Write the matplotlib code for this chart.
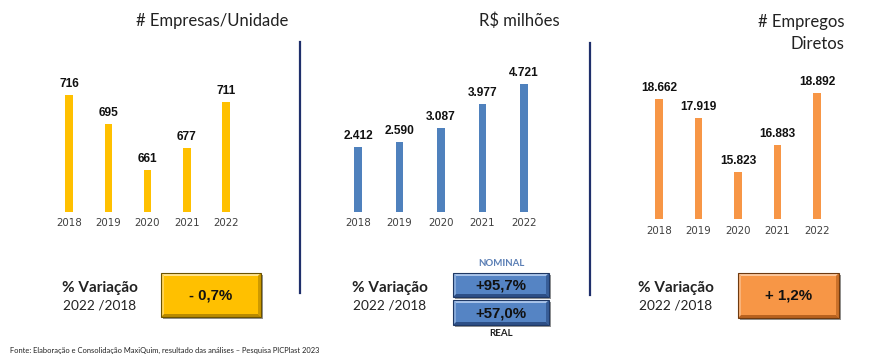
import matplotlib
matplotlib.use("Agg")
import matplotlib.pyplot as plt
from matplotlib.patches import Rectangle, Polygon

# ---------------- data ----------------
years = ["2018", "2019", "2020", "2021", "2022"]
empresas = [716, 695, 661, 677, 711]
empresas_labels = ["716", "695", "661", "677", "711"]
receita = [2412, 2590, 3087, 3977, 4721]
receita_labels = ["2.412", "2.590", "3.087", "3.977", "4.721"]
empregos = [18662, 17919, 15823, 16883, 18892]
empregos_labels = ["18.662", "17.919", "15.823", "16.883", "18.892"]

titles = ["# Empresas/Unidade", "R$ milhões", "# Empregos\nDiretos"]
var_label = "% Variação"
var_period = "2022 /2018"
var_empresas = "- 0,7%"
var_nominal = "+95,7%"
var_real = "+57,0%"
var_empregos = "+ 1,2%"
fonte = "Fonte: Elaboração e Consolidação MaxiQuim, resultado das análises – Pesquisa PICPlast 2023"

W, H = 871, 364
fig = plt.figure(figsize=(W / 100, H / 100), dpi=100)
fig.patch.set_facecolor("white")

BAR_FONT = "Liberation Sans"
TICK_FONT = "DejaVu Sans"
CAL_FONT = "Lato"


def bar_panel(values, labels, c0, spacing, base_px, top_px, ymin, px_per_unit, color, tick_y):
    left = c0 - 0.8 * spacing
    width = 5.6 * spacing
    height = base_px - top_px
    ax = fig.add_axes([left / W, 1 - base_px / H, width / W, height / H])
    ax.set_xlim(-0.8, 4.8)
    ax.set_ylim(ymin, ymin + height / px_per_unit)
    x = range(len(values))
    bw = 7.5 / spacing
    ax.bar(x, [v - ymin for v in values], bottom=ymin, width=bw, color=color, zorder=2)
    for xi, v, lab in zip(x, values, labels):
        ax.annotate(lab, (xi, v), xytext=(0, 3.5), textcoords="offset points",
                    ha="center", va="bottom", fontsize=8.6, fontweight="bold",
                    family=BAR_FONT, color="#111111")
    ax.set_xticks(list(x))
    ax.set_xticklabels(years, family=TICK_FONT, fontsize=7.4, color="#404040")
    ax.tick_params(axis="x", length=0, pad=(tick_y - base_px - 6) * 0.72)
    ax.set_yticks([])
    for s in ax.spines.values():
        s.set_visible(False)
    ax.patch.set_alpha(0)
    return ax


bar_panel(empresas, empresas_labels, 69, 39.25, 212, 60, 630, 1.36, "#FFC000", 224)
bar_panel(receita, receita_labels, 358, 41.5, 212, 60, 0, 0.02712, "#4F81BD", 224)
bar_panel(empregos, empregos_labels, 659, 39.5, 219, 60, 14000, 0.02576, "#F79646", 232)

# overlay axes in pixel coordinates
ov = fig.add_axes([0, 0, 1, 1])
ov.set_xlim(0, W)
ov.set_ylim(H, 0)
ov.axis("off")
ov.patch.set_alpha(0)

# titles
ov.text(212, 21, titles[0], ha="center", va="center", fontsize=12, family=CAL_FONT, color="#222222")
ov.text(519, 21, titles[1], ha="center", va="center", fontsize=12, family=CAL_FONT, color="#222222")
ov.text(844, 33, titles[2], ha="right", va="center", fontsize=12, family=CAL_FONT, color="#222222",
        linespacing=1.45)

# separators
ov.plot([300, 300], [42, 293], color="#1F2F6B", lw=1.6)
ov.plot([590, 590], [43, 295], color="#1F2F6B", lw=1.6)

# variation labels
for cx in (100, 390, 676):
    ov.text(cx, 288, var_label, ha="center", va="center", fontsize=11, fontweight="bold",
            family=CAL_FONT, color="#222222")
    ov.text(cx, 305, var_period, ha="center", va="center", fontsize=9.8,
            family=CAL_FONT, color="#222222")


def bevel_box(x0, y0, x1, y1, face, light, dark, edge, text):
    b = 3
    ov.add_patch(Rectangle((x0 + 2, y0 + 2), x1 - x0, y1 - y0, facecolor="#3A3A3A",
                           edgecolor="none", alpha=0.55, zorder=3))
    ov.add_patch(Rectangle((x0, y0), x1 - x0, y1 - y0, facecolor=face, edgecolor="none", zorder=4))
    ov.add_patch(Polygon([(x0, y0), (x1, y0), (x1 - b, y0 + b), (x0 + b, y0 + b)],
                         closed=True, facecolor=light, edgecolor="none", zorder=5))
    ov.add_patch(Polygon([(x0, y1), (x1, y1), (x1 - b, y1 - b), (x0 + b, y1 - b)],
                         closed=True, facecolor=dark, edgecolor="none", zorder=5))
    ov.add_patch(Polygon([(x0, y0), (x0 + b, y0 + b), (x0 + b, y1 - b), (x0, y1)],
                         closed=True, facecolor=light, edgecolor="none", alpha=0.6, zorder=5))
    ov.add_patch(Polygon([(x1, y0), (x1 - b, y0 + b), (x1 - b, y1 - b), (x1, y1)],
                         closed=True, facecolor=dark, edgecolor="none", alpha=0.7, zorder=5))
    ov.add_patch(Rectangle((x0, y0), x1 - x0, y1 - y0, facecolor="none", edgecolor=edge,
                           lw=0.8, zorder=6))
    ov.text((x0 + x1) / 2, (y0 + y1) / 2 + 0.5, text, ha="center", va="center", fontsize=10.8,
            fontweight="bold", family=BAR_FONT, color="#111111", zorder=7)


bevel_box(161, 273, 261, 317, "#FFC000", "#FFE38F", "#B88A00", "#6B5200", var_empresas)
bevel_box(453, 273, 549, 297, "#5584C4", "#A9C4EA", "#2D4F86", "#1F3864", var_nominal)
bevel_box(453, 300, 549, 325, "#5584C4", "#A9C4EA", "#2D4F86", "#1F3864", var_real)
bevel_box(738, 273, 839, 318, "#F79646", "#FBC79D", "#B8621F", "#6E3A10", var_empregos)

ov.text(501, 264, "NOMINAL", ha="center", va="center", fontsize=7, fontweight="bold",
        family=CAL_FONT, color="#5B7FB5")
ov.text(501, 334, "REAL", ha="center", va="center", fontsize=7, fontweight="bold",
        family=CAL_FONT, color="#222222")

ov.text(10, 350, fonte, ha="left", va="center", fontsize=5.45, family=CAL_FONT, color="#222222")

fig.savefig("out.png", dpi=100)
